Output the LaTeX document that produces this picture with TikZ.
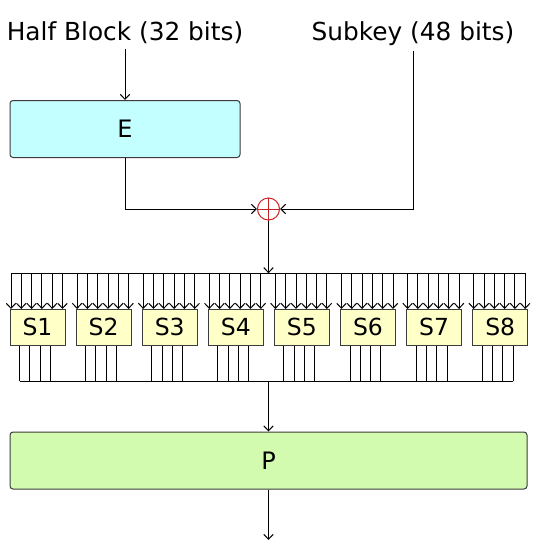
\documentclass[tikz,border=0pt]{standalone}
\usepackage{fontspec}
\setmainfont{DejaVu Sans}
\usetikzlibrary{arrows.meta,calc}
\definecolor{ecol}{RGB}{196,255,255}
\definecolor{pcol}{RGB}{210,251,176}
\definecolor{scol}{RGB}{255,255,200}
\definecolor{xcol}{RGB}{200,35,35}
\definecolor{bord}{RGB}{60,60,60}
\begin{document}
\begin{tikzpicture}[x=1pt,y=-1pt, line width=1pt,
  arr/.style={-{Straight Barb[length=5pt,width=9.5pt]}},
  box/.style={draw=bord, line width=1pt, rounded corners=3pt, inner sep=0pt, font=\fontsize{24}{28}\selectfont},
  lbl/.style={font=\fontsize{24.8}{30}\selectfont, inner sep=0pt, anchor=base},
  sbox/.style={draw=bord, line width=1pt, fill=scol, minimum width=55pt, minimum height=35.5pt, inner sep=0pt, font=\fontsize{23.5}{28}\selectfont}]
\useasboundingbox (0,0) rectangle (540,550);
\node[lbl] (hb) at (125,40) {Half Block (32 bits)};
\node[lbl] (sk) at (413,40) {Subkey (48 bits)};
\node[box, fill=ecol, minimum width=230pt, minimum height=57pt] (E) at (125,129) {E};
\node[box, fill=pcol, minimum width=517pt, minimum height=57pt] (P) at (268.5,460.5) {P};
\node[circle, draw=xcol, line width=1pt, minimum size=22pt, inner sep=0pt] (x) at (268.5,209) {};
\draw[xcol, line width=1pt] (x.north) -- (x.south) (x.west) -- (x.east);
\draw[arr] ($(hb.south)+(0,5)$) -- (E.north);
\draw[arr] ($(sk.south)+(0,5)$) |- (x.east);
\draw[arr] (E.south) |- (x.west);
\foreach \i in {1,...,8} {
  \node[sbox] (s\i) at ({37.5+66.1*(\i-1)},327.25) {S\i};
}
\coordinate (busT) at (268.5,273.3);
\coordinate (busB) at (268.5,381);
\coordinate (fin) at (268.5,540);
\foreach \i in {1,...,8} {
  \foreach \j in {0,...,5} {
    \path ($(s\i.north west)+({1.5+10.3*\j},0)$) coordinate (in\i\j);
    \draw[arr] (in\i\j |- busT) -- (in\i\j);
  }
  \foreach \k in {0,...,3} {
    \path ($(s\i.south west)+({10+10.33*\k},0)$) coordinate (out\i\k);
    \draw (out\i\k) -- (out\i\k |- busB);
  }
}
\draw (in10 |- busT) -- (in85 |- busT);
\draw (out10 |- busB) -- (out83 |- busB);
\draw[arr] (x.south) -- (busT);
\draw[arr] (busB) -- (P.north);
\draw[arr] (P.south) -- (fin);
\end{tikzpicture}
\end{document}
